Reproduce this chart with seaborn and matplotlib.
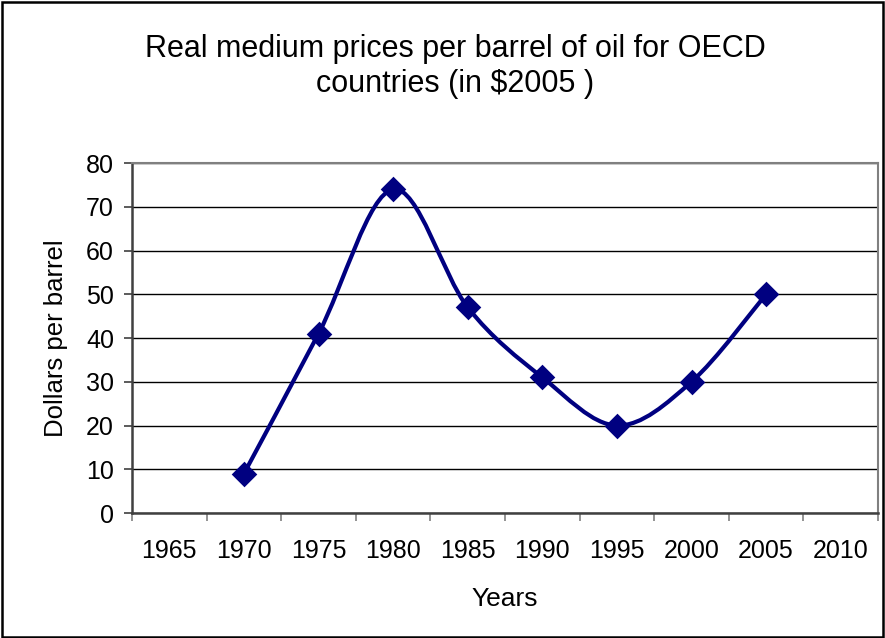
"""Real medium oil prices for OECD countries, Excel-style smoothed line chart."""

import matplotlib

matplotlib.use("Agg")

import matplotlib.pyplot as plt
import numpy as np
import pandas as pd
import seaborn as sns
from matplotlib.patches import PathPatch, Rectangle
from matplotlib.path import Path

# category axis (Excel-style, one slot per label)
axis_years = [1965, 1970, 1975, 1980, 1985, 1990, 1995, 2000, 2005, 2010]

# observed series
price_years = [1970, 1975, 1980, 1985, 1990, 1995, 2000, 2005]
prices = [9, 41, 74, 47, 31, 20, 30, 50]

y_ticks = [0, 10, 20, 30, 40, 50, 60, 70, 80]

title = "Real medium prices per barrel of oil for OECD\ncountries (in $2005 )"
x_label = "Years"
y_label = "Dollars per barrel"

line_color = "#000080"


def smooth_path(xs, ys):
    """Bezier path through the points, Catmull-Rom control points like Excel."""
    pts = np.column_stack([xs, ys]).astype(float)
    n = len(pts)
    verts = [pts[0]]
    codes = [Path.MOVETO]
    for i in range(n - 1):
        p_prev = pts[max(i - 1, 0)]
        p0 = pts[i]
        p1 = pts[i + 1]
        p_next = pts[min(i + 2, n - 1)]
        c1 = p0 + (p1 - p_prev) / 6.0
        c2 = p1 - (p_next - p0) / 6.0
        verts += [c1, c2, p1]
        codes += [Path.CURVE4] * 3
    return Path(verts, codes)


sns.set_style("white")
plt.rcParams["font.family"] = ["Liberation Sans", "DejaVu Sans"]
plt.rcParams["text.color"] = "black"
plt.rcParams["axes.labelcolor"] = "black"
plt.rcParams["xtick.color"] = "black"
plt.rcParams["ytick.color"] = "black"

df = pd.DataFrame(
    {
        "position": [axis_years.index(y) for y in price_years],
        "price": prices,
    }
)

fig = plt.figure(figsize=(8.85, 6.38), dpi=100)
ax = fig.add_axes([0.1492, 0.1959, 0.8429, 0.5486])

# smoothed line
ax.add_patch(
    PathPatch(
        smooth_path(df["position"], df["price"]),
        facecolor="none",
        edgecolor=line_color,
        linewidth=3.0,
        zorder=3,
    )
)
sns.scatterplot(
    data=df,
    x="position",
    y="price",
    marker="D",
    s=170,
    color=line_color,
    linewidth=0,
    zorder=4,
    ax=ax,
)

ax.set_xlim(-0.5, len(axis_years) - 0.5)
ax.set_ylim(0, 80)
ax.set_yticks(y_ticks)
ax.yaxis.grid(True, color="black", linewidth=1.0)
ax.set_axisbelow(True)

# tick marks between categories, labels at category centres
ax.set_xticks(np.arange(len(axis_years) + 1) - 0.5)
ax.set_xticklabels([])
ax.set_xticks(np.arange(len(axis_years)), minor=True)
ax.set_xticklabels([str(y) for y in axis_years], minor=True, fontsize=18)
ax.tick_params(axis="x", which="major", direction="out", length=6, width=1.2,
               color="#808080", bottom=True)
ax.tick_params(axis="x", which="minor", length=0, pad=19)
ax.tick_params(axis="y", direction="out", length=6, width=1.2, color="#404040",
               left=True, labelsize=18, pad=7)

for side in ["top", "right"]:
    ax.spines[side].set_color("#808080")
    ax.spines[side].set_linewidth(1.5)
ax.spines["left"].set_color("#404040")
ax.spines["left"].set_linewidth(1.8)
ax.spines["bottom"].set_color("#404040")
ax.spines["bottom"].set_linewidth(1.8)

ax.set_xlabel(x_label, fontsize=19, labelpad=17)
ax.set_ylabel(y_label, fontsize=18.5, labelpad=13)

fig.text(0.514, 0.896, title, ha="center", va="center", fontsize=22,
         linespacing=1.2)

# chart area border
fig.add_artist(Rectangle((0.002, 0.002), 0.996, 0.995, transform=fig.transFigure,
                         fill=False, edgecolor="black", linewidth=1.8))

fig.savefig("out.png", dpi=100)
